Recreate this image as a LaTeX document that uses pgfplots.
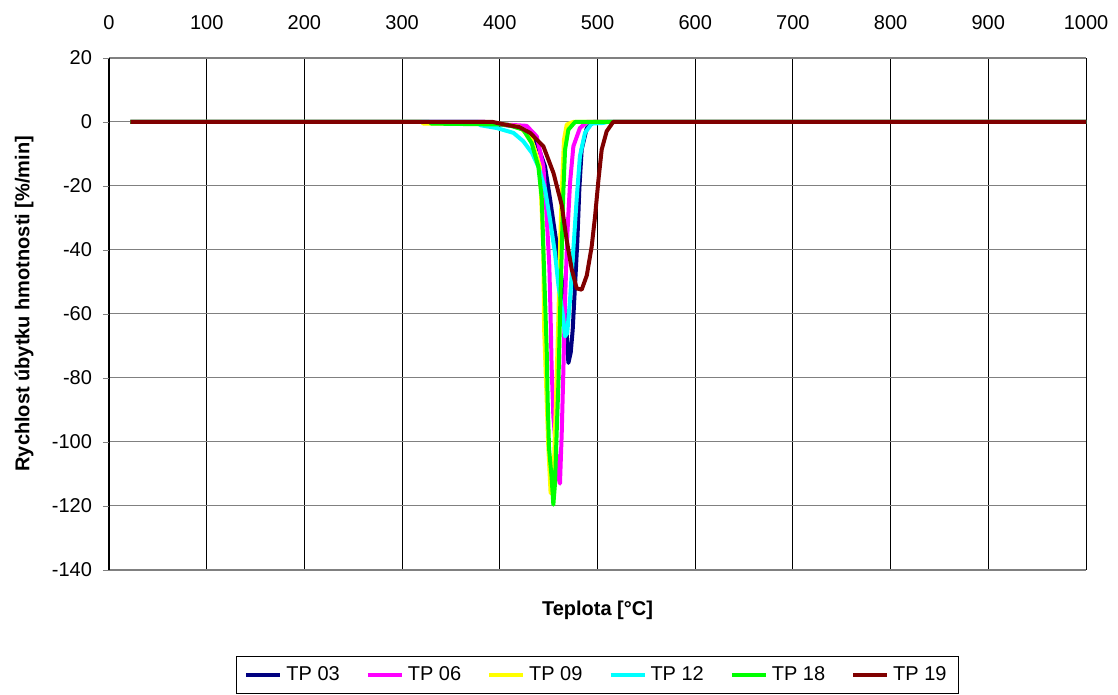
\documentclass[border=0pt]{standalone}
\usepackage{pgfplots}
\pgfplotsset{compat=1.18}
\usepackage{fontspec}
\setmainfont{Liberation Sans}

\definecolor{tp03}{RGB}{0,0,128}
\definecolor{tp06}{RGB}{255,0,255}
\definecolor{tp09}{RGB}{255,255,0}
\definecolor{tp12}{RGB}{0,255,255}
\definecolor{tp18}{RGB}{0,255,0}
\definecolor{tp19}{RGB}{128,0,0}

\begin{document}
\begin{tikzpicture}
\begin{axis}[
    name=ax,
    scale only axis,
    width=488.5pt, height=256pt,
    xmin=0, xmax=1000, ymin=-140, ymax=20,
    xtick={0,100,...,1000},
    ytick={-140,-120,...,20},
    xticklabel pos=upper,
    xtick style={draw=none},
    ytick pos=left,
    tick align=outside,
    major tick length=3pt,
    ytick style={draw=gray},
    separate axis lines,
    x axis line style={draw=gray},
    y axis line style={draw=black},
    grid=major,
    x grid style={black, line width=0.5pt},
    y grid style={gray, line width=0.5pt},
    /pgf/number format/assume math mode=true,
    /pgf/number format/1000 sep={},
    tick label style={font=\fontsize{10}{12}\selectfont},
    xticklabel style={anchor=center, yshift=14.5pt},
    yticklabel style={anchor=east, xshift=-2pt},
    xlabel={\textbf{Teplota [°C]}},
    ylabel={\textbf{Rychlost úbytku hmotnosti [\%/min]}},
    label style={font=\fontsize{10}{12}\selectfont},
    xlabel style={at={(axis description cs:0.5,-0.078)}, anchor=center},
    ylabel style={at={(axis description cs:-0.087,0.52)}, anchor=center},
    legend columns=6,
    legend style={at={(axis description cs:0.5,-0.168)}, anchor=north,
        font=\fontsize{10}{12}\selectfont, draw=black, line width=0.5pt,
        /tikz/every even column/.append style={column sep=11pt},
        inner xsep=4pt, inner ysep=3pt},
    legend image code/.code={\draw[#1] (0pt,0pt) -- (17pt,0pt);},
    every axis plot/.append style={line width=2pt, line join=round},
]
% TP 03
\addplot[tp03] coordinates {
(22,0) (385,0) (395,-0.6) (420.7,-1.5) (437.8,-6.6) (446.3,-13.9) (451.4,-24) (456.5,-34.7)
(461.7,-45) (465.7,-55.5) (468.5,-66) (470.2,-75.3) (472.6,-72) (474.6,-65)
(477,-51) (479.4,-37) (481.4,-21) (483.8,-8.6) (489,-1.9) (495.8,0) (1000,0)};
% TP 06
\addplot[tp06] coordinates {
(22,0) (385,0) (395,-0.6) (427.5,-1.2) (437.8,-4.5) (444.6,-13.9) (448,-29.5) (450.7,-45)
(452,-60.7) (453,-76) (454.8,-92) (457.5,-102) (460,-111) (461.6,-113)
(463.4,-97) (465,-78.4) (466.8,-55.5) (469.2,-34.7) (471.9,-19) (475.3,-7.6)
(482,-1.9) (489,0) (1000,0)};
% TP 09
\addplot[tp09] coordinates {
(22,0) (320,0) (321.8,-0.5) (400,-0.6) (420,-1.5) (432,-5) (441,-14)
(444.6,-40) (445.3,-64) (448,-87) (449.7,-102) (452,-116) (454.8,-113)
(457.5,-87) (460,-60.7) (461.6,-40) (463.4,-22) (465.7,-5.5) (468.5,-0.8)
(475,0) (1000,0)};
% TP 12
\addplot[tp12] coordinates {
(22,0) (378,0) (380,-1) (397,-1.9) (414,-3.4) (424,-6) (433,-9.7) (439.5,-14)
(446.3,-21) (451.4,-30.5) (456.5,-41) (460,-51) (464.4,-60) (466.8,-67)
(469,-66) (471.9,-55.5) (474.6,-43) (478.7,-24) (482,-10.7) (487.2,-3.4)
(494,-0.5) (506,-0.3) (510,0) (1000,0)};
% TP 18
\addplot[tp18] coordinates {
(22,0) (328,0) (330,-0.5) (407,-0.8) (424,-2.4) (432.6,-6.6) (439.5,-14)
(443,-24) (444.6,-40) (446.3,-55.5) (448,-71) (449,-87) (450.4,-102)
(453,-111) (454.8,-119.6) (456.5,-113) (458.2,-97) (460,-81.6) (461.6,-60.7)
(463.4,-40) (465,-22) (466.8,-8.6) (470.2,-2.4) (477,0) (1000,0)};
% TP 19
\addplot[tp19] coordinates {
(22,0) (393,0) (405,-0.8) (420,-1.6) (431,-3.4) (444.6,-7.6) (455,-16) (463.4,-26)
(468.5,-37) (473.6,-46) (478.7,-52) (483.8,-52.4) (489,-48) (494,-39)
(497.5,-29.5) (501,-18) (504.3,-8.6) (509.4,-2.9) (516,0) (1000,0)};
\legend{TP 03, TP 06, TP 09, TP 12, TP 18, TP 19}
\end{axis}
\path (ax.south west) ++(-54.5pt,-62.5pt);
\path (ax.north east) ++(16pt,29pt);
\end{tikzpicture}
\end{document}
